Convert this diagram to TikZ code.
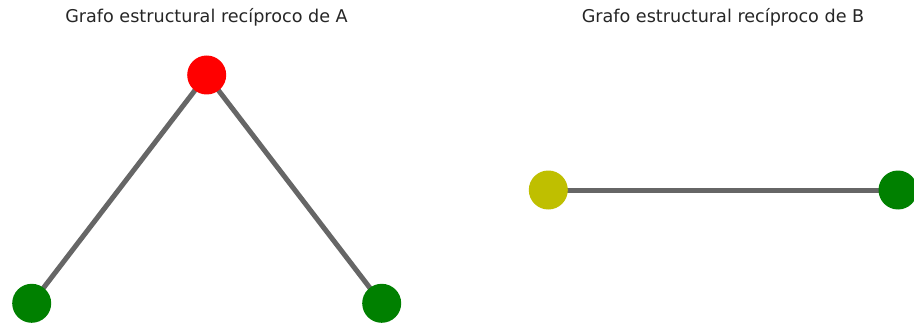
\documentclass[tikz,border=0pt]{standalone}
\usepackage{fontspec}
\setmainfont{DejaVu Sans}
\definecolor{nred}{HTML}{FF0000}
\definecolor{ngreen}{HTML}{008000}
\definecolor{nyellow}{HTML}{BFBF00}
\definecolor{edgegray}{HTML}{666666}
\begin{document}
\begin{tikzpicture}[x=1pt,y=-1pt,
  vtx/.style={circle,inner sep=0pt,minimum size=39pt,draw=none},
  edge/.style={draw=edgegray,line width=5pt},
  ttl/.style={font=\fontsize{17.6}{20}\selectfont,text=black!85,inner sep=0pt,anchor=base}]
\useasboundingbox (0,0) rectangle (914,329);
\fill[white] (0,0) rectangle (914,329);
\node[ttl] (tA) at (206.5,23) {Grafo estructural recíproco de A};
\node[ttl] (tB) at (723,23) {Grafo estructural recíproco de B};
\coordinate (pa) at (206.7,75);
\coordinate (pb) at (31.7,303.3);
\coordinate (pc) at (381.7,303.3);
\coordinate (pd) at (548.3,190);
\coordinate (pe) at (898,190);
\draw[edge] (pa) -- (pb);
\draw[edge] (pa) -- (pc);
\draw[edge] (pd) -- (pe);
\node[vtx,fill=nred] (a) at (pa) {};
\node[vtx,fill=ngreen] (b) at (pb) {};
\node[vtx,fill=ngreen] (c) at (pc) {};
\node[vtx,fill=nyellow] (d) at (pd) {};
\node[vtx,fill=ngreen] (e) at (pe) {};
\end{tikzpicture}
\end{document}
